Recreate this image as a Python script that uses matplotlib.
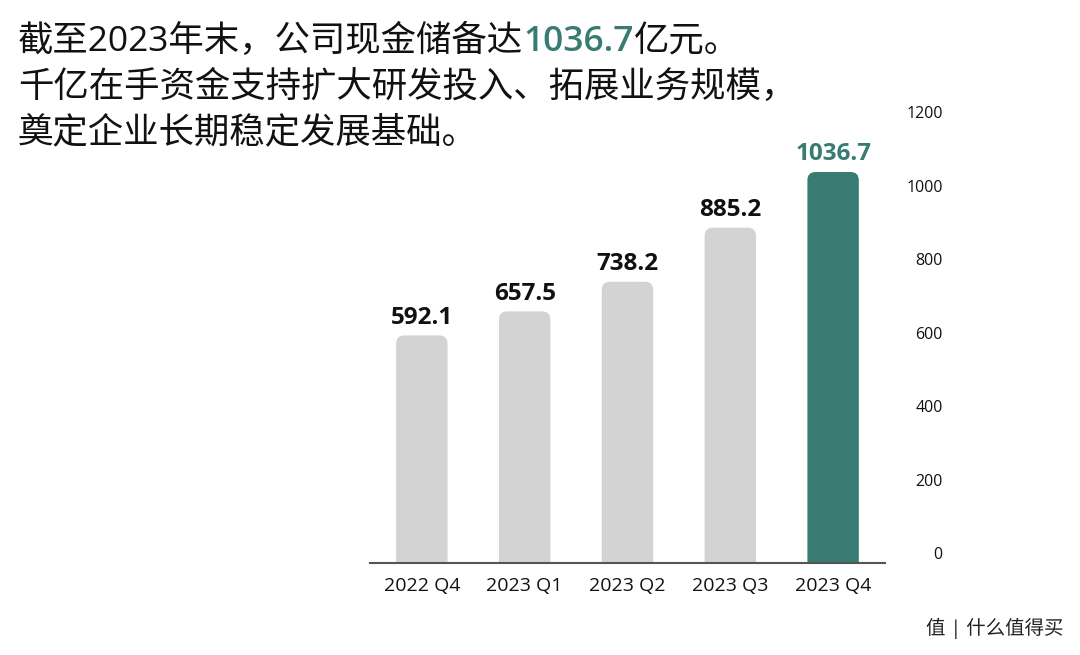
import matplotlib.pyplot as plt
import matplotlib.patheffects as pe
from matplotlib.patches import FancyBboxPatch

plt.rcParams['font.family'] = ['Open Sans', 'Noto Sans CJK SC', 'DejaVu Sans']

# 公司现金储备（亿元）
quarters = ["2022 Q4", "2023 Q1", "2023 Q2", "2023 Q3", "2023 Q4"]
reserves = [592.1, 657.5, 738.2, 885.2, 1036.7]
y_ticks = [0, 200, 400, 600, 800, 1000, 1200]

gray = "#d3d3d3"
teal = "#377b73"

fig = plt.figure(figsize=(10.8, 6.55), dpi=100)
ax_h = 0.6885
ax = fig.add_axes([0.343, 0.1405, 0.476, ax_h])
ax.set_xlim(-0.5, len(quarters) - 0.5)
ax.set_ylim(-27, 1200)

# rounded-top bars: aspect corrects the corner radius for the data scale
px_x = 0.476 * 1080 / len(quarters)
px_y = ax_h * 655 / 1227
aspect = px_x / px_y
bar_w = 0.5
for i, v in enumerate(reserves):
    last = i == len(reserves) - 1
    box = FancyBboxPatch((i - bar_w / 2, -80), bar_w, v + 80,
                         boxstyle="round,pad=0,rounding_size=0.08",
                         mutation_aspect=aspect, fc=teal if last else gray, ec="none")
    ax.add_patch(box)
    ax.annotate(f"{v:.1f}", (i, v), xytext=(0, 4), textcoords="offset points",
                ha="center", va="bottom", fontsize=17.5, fontweight="bold",
                color=teal if last else "#111111")

for s in ax.spines.values():
    s.set_visible(False)
ax.spines["bottom"].set_visible(True)
ax.spines["bottom"].set_color("#555555")
ax.spines["bottom"].set_linewidth(1.5)
ax.spines["bottom"].set_zorder(3)

ax.set_xticks(range(len(quarters)))
ax.set_xticklabels(quarters, fontsize=14, color="#111111")
ax.tick_params(axis="x", length=0, pad=10)

ax.yaxis.tick_right()
ax.set_yticks(y_ticks)
ax.set_yticklabels([str(t) for t in y_ticks], fontsize=11.5, color="#111111")
ax.tick_params(axis="y", length=0, pad=42)
for lbl in ax.get_yticklabels():
    lbl.set_horizontalalignment("right")

# headline text, first line has the teal number in the middle
fig.canvas.draw()
renderer = fig.canvas.get_renderer()
x = 18
parts = [("截至2023年末，公司现金储备达", "#111111", "normal"),
         ("1036.7", teal, "semibold"),
         ("亿元。", "#111111", "normal")]
for txt, col, w in parts:
    t = fig.text(x / 1080, 1 - 42 / 655, txt, fontsize=25.5, color=col,
                 fontweight=w, va="center", ha="left")
    x = t.get_window_extent(renderer).x1
fig.text(18 / 1080, 1 - 88 / 655, "千亿在手资金支持扩大研发投入、拓展业务规模，",
         fontsize=25.5, color="#111111", va="center", ha="left")
fig.text(18 / 1080, 1 - 133 / 655, "奠定企业长期稳定发展基础。",
         fontsize=25.5, color="#111111", va="center", ha="left")

# watermark
fig.text(995 / 1080, 1 - 628 / 655, "值 | 什么值得买", fontsize=14, color="#222222",
         ha="center", va="center",
         path_effects=[pe.withStroke(linewidth=3, foreground="white")])

fig.savefig("out.png", dpi=100)
